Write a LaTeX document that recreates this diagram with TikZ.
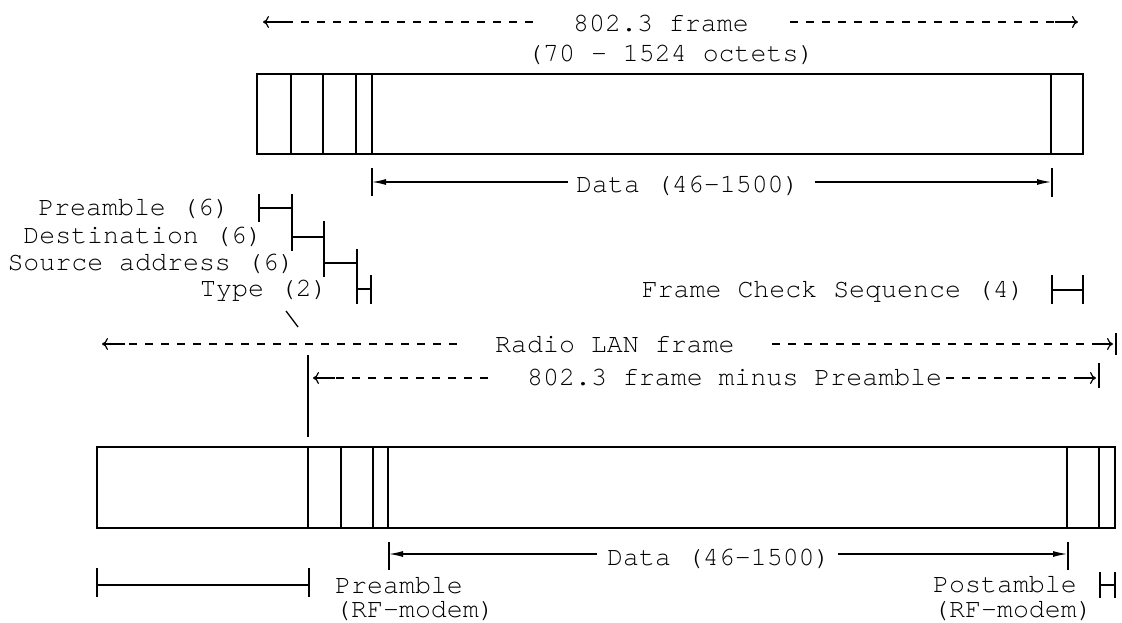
\documentclass[tikz,border=0pt]{standalone}
\usepackage{fontspec}
\setmainfont{TeX Gyre Cursor}
\usetikzlibrary{arrows.meta}
\begin{document}
\begin{tikzpicture}[x=1pt,y=-1pt,
  lw/.style={line width=1.3pt},
  lbl/.style={inner sep=0pt, font=\fontsize{26.6}{30}\selectfont, anchor=base west},
  lblr/.style={lbl, anchor=base east},
  dsh/.style={line width=1.2pt, dash pattern=on 8pt off 8pt},
  openarr/.style={line width=1.2pt, -{Computer Modern Rightarrow[length=6pt,width=12pt]}},
  fillarr/.style={line width=1.2pt, -{Latex[length=14pt,width=6pt]}},
  tick/.style={line width=1.3pt}
]
\useasboundingbox (0,0) rectangle (1122,623);

% ---------- top 802.3 frame ----------
\draw[lw] (257,74) rectangle (1083,154);
\foreach \x in {291,323,356,372,1051} \draw[lw] (\x,74) -- (\x,154);

\node[lbl] (t1) at (573,32) {802.3 frame};
\node[lbl] (t2) at (527,62) {(70 - 1524 octets)};
\coordinate (tLd) at (533,22);
\coordinate (tLs) at (287,22);
\coordinate (tLtip) at (263,22);
\coordinate (tRd) at (790,22);
\coordinate (tRs) at (1055,22);
\coordinate (tRtip) at (1078,22);
\draw[dsh] (tLd) -- (tLs);
\draw[openarr] (tLs) -- (tLtip);
\draw[dsh] (tRd) -- (tRs);
\draw[openarr] (tRs) -- (tRtip);

% top data
\node[lbl] (d1) at (576,192) {Data (46-1500)};
\coordinate (d1a) at (568,182);
\coordinate (d1L) at (372,182);
\coordinate (d1b) at (815,182);
\coordinate (d1R) at (1051,182);
\draw[fillarr] (d1a) -- (d1L);
\draw[fillarr] (d1b) -- (d1R);
\draw[tick] (372,168) -- (372,196);
\draw[tick] (1052,168) -- (1052,197);

% field brackets
\node[lblr] (p6) at (230,215) {Preamble (6)};
\node[lblr] (de6) at (263,243) {Destination (6)};
\node[lblr] (sa6) at (295,270) {Source address (6)};
\node[lblr] (ty2) at (328,296) {Type (2)};
\draw[tick] (259,194) -- (259,222);
\draw[tick] (259,208) -- (292,208);
\draw[tick] (292,194) -- (292,251);
\draw[tick] (292,237) -- (324,237);
\draw[tick] (324,221) -- (324,277);
\draw[tick] (324,263) -- (357,263);
\draw[tick] (357,249) -- (357,304);
\draw[tick] (357,289) -- (371,289);
\draw[tick] (371,275) -- (371,304);
\draw[tick] (286,311) -- (298,327);

% FCS
\node[lblr] (fcs) at (1025,297) {Frame Check Sequence (4)};
\draw[tick] (1052,275) -- (1052,304);
\draw[tick] (1083,275) -- (1083,304);
\draw[tick] (1052,290) -- (1083,290);

% ---------- Radio LAN frame ----------
\node[lbl] (rl) at (495,352) {Radio LAN frame};
\coordinate (rLd) at (457,344);
\coordinate (rLs) at (125,344);
\coordinate (rLtip) at (102,344);
\coordinate (rRd) at (772,344);
\coordinate (rRs) at (1092,344);
\coordinate (rRtip) at (1113,344);
\draw[dsh] (rLd) -- (rLs);
\draw[openarr] (rLs) -- (rLtip);
\draw[dsh] (rRd) -- (rRs);
\draw[openarr] (rRs) -- (rRtip);
\draw[tick] (1116,333) -- (1116,355);

\draw[tick] (308,355) -- (308,437);

\node[lbl] (mp) at (527,385) {802.3 frame minus Preamble};
\coordinate (mLd) at (488,378);
\coordinate (mLs) at (335,378);
\coordinate (mLtip) at (313,378);
\coordinate (mRd) at (946,378);
\coordinate (mRs) at (1075,378);
\coordinate (mRtip) at (1096,378);
\draw[dsh] (mLd) -- (mLs);
\draw[openarr] (mLs) -- (mLtip);
\draw[dsh] (mRd) -- (mRs);
\draw[openarr] (mRs) -- (mRtip);
\draw[tick] (1099,363) -- (1099,388);

% ---------- bottom frame ----------
\draw[lw] (97,447) rectangle (1115,528);
\foreach \x in {308,341,373,388,1067,1099} \draw[lw] (\x,447) -- (\x,528);

\node[lbl] (d2) at (607,565) {Data (46-1500)};
\coordinate (d2a) at (597,554);
\coordinate (d2L) at (389,554);
\coordinate (d2b) at (838,554);
\coordinate (d2R) at (1067,554);
\draw[fillarr] (d2a) -- (d2L);
\draw[fillarr] (d2b) -- (d2R);
\draw[tick] (389,542) -- (389,570);
\draw[tick] (1068,542) -- (1068,570);

% preamble bracket
\draw[tick] (97,568) -- (97,597);
\draw[tick] (309,568) -- (309,597);
\draw[tick] (97,585) -- (309,585);
\node[lbl] (pr) at (335,593) {Preamble};
\node[lbl] (prm) at (335,617) {(RF-modem)};

% postamble
\node[lbl] (po) at (933,592) {Postamble};
\node[lbl] (pom) at (933,617) {(RF-modem)};
\draw[tick] (1100,572) -- (1100,598);
\draw[tick] (1115,572) -- (1115,598);
\draw[tick] (1100,585) -- (1115,585);
\end{tikzpicture}
\end{document}
